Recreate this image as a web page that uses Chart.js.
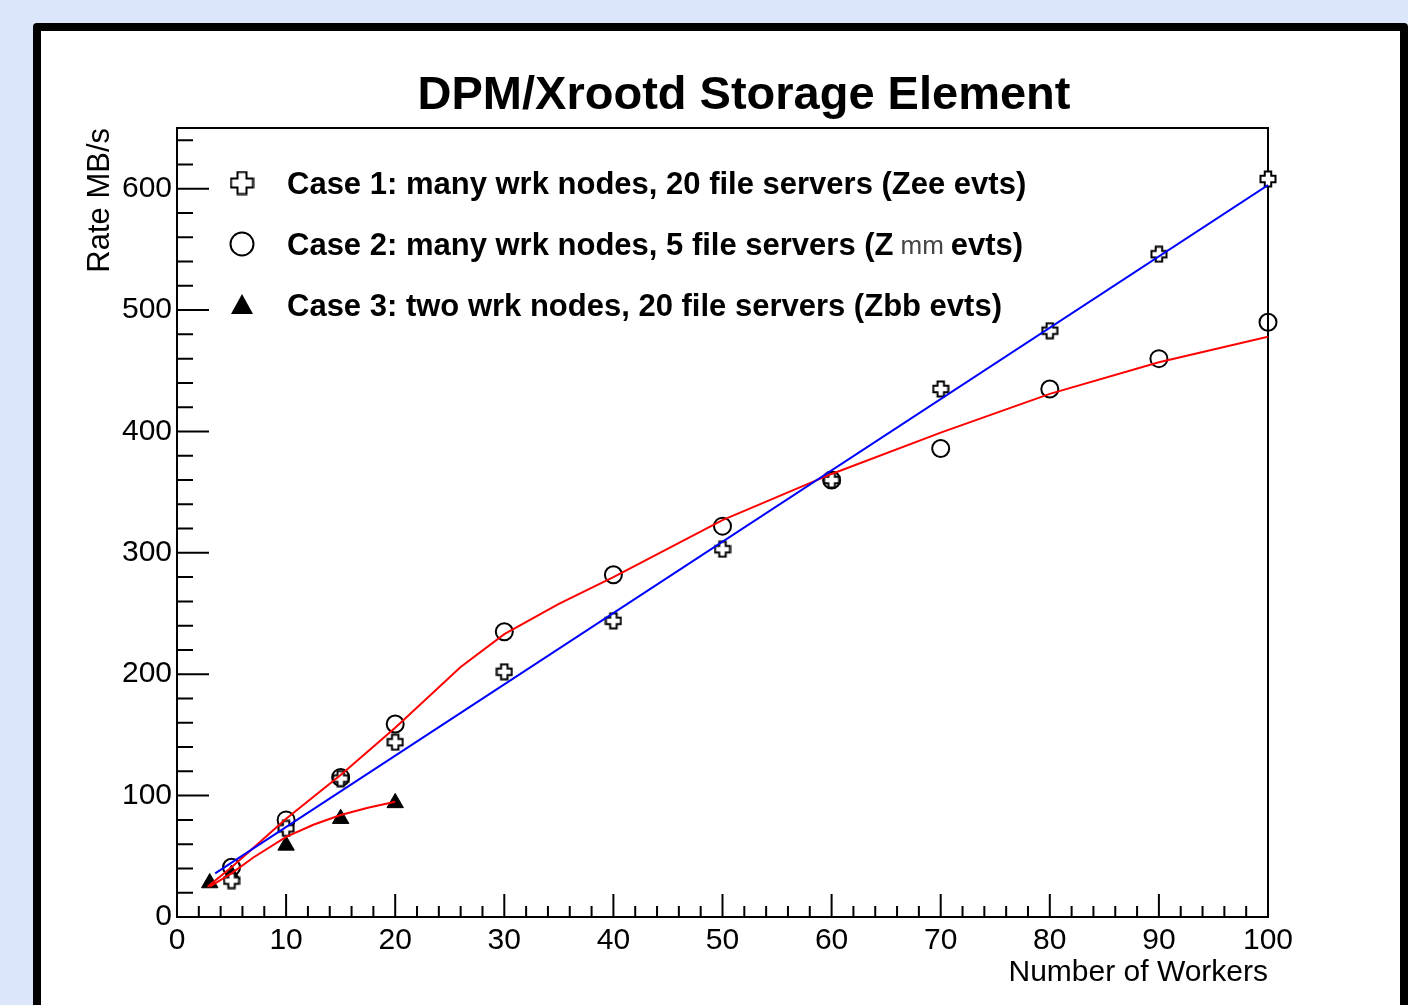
<!DOCTYPE html>
<html>
<head>
<meta charset="utf-8">
<script src="https://cdn.jsdelivr.net/npm/chart.js@4.4.1/dist/chart.umd.min.js"></script>
<style>
  html, body { margin: 0; padding: 0; background: #dce6fa; overflow: hidden; }
  #frame { position: absolute; left: 33px; top: 23px; width: 1359px; height: 1100px;
           border: 8px solid #000; border-radius: 4px; background: #fff; }
  #chartRate { position: absolute; left: 0; top: 0; }
</style>
</head>
<body>
<div id="frame"></div>
<canvas id="chartRate" width="1408" height="1005"></canvas>
<script>
// measured points (workers -> MB/s)
const workers = [5, 10, 15, 20, 30, 40, 50, 60, 70, 80, 90, 100];
const case1Rate = [30, 73, 114, 144, 202, 244, 303, 360, 435, 483, 546, 608];
const case2Rate = [41, 80, 115, 159, 235, 282, 322, 360, 386, 435, 460, 490];
const case3Workers = [3, 5, 10, 15, 20];
const case3Rate = [28, 35, 59, 81, 94];

// fitted curves
const fit1Workers = [3.5, 100];
const fit1Rate = [36, 603];
const fit2Workers = [2.8, 5, 10, 15, 20, 26, 30, 35, 40, 50, 60, 70, 80, 90, 100];
const fit2Rate = [25, 41, 81, 117, 156, 206, 233, 258, 280, 327, 365, 399, 431, 457, 478];
const fit3Workers = [3, 5, 7, 10, 12.5, 15, 17.5, 20];
const fit3Rate = [25, 36, 49, 66, 76, 84, 90, 95];

// axis ticks
const xTickValues = [0, 10, 20, 30, 40, 50, 60, 70, 80, 90, 100];
const yTickValues = [0, 100, 200, 300, 400, 500, 600];

const chartTitle = 'DPM/Xrootd Storage Element';
const caseLabels = [
  'Case 1: many wrk nodes, 20 file servers (Zee evts)',
  'Case 2: many wrk nodes, 5 file servers (Z mm evts)',
  'Case 3: two wrk nodes, 20 file servers (Zbb evts)'
];

const FONT = '"Liberation Sans", Arial, Helvetica, sans-serif';

function toPts(xs, ys) {
  return xs.map((x, i) => ({ x: x, y: ys[i] }));
}

// open cross marker (white inside, black outline)
function makeCross(size) {
  const c = document.createElement('canvas');
  c.width = size; c.height = size;
  const g = c.getContext('2d');
  const p = 1.5, w = size * 0.36, t = (size - w) / 2, e = size - p;
  g.beginPath();
  g.moveTo(t, p); g.lineTo(t + w, p); g.lineTo(t + w, t); g.lineTo(e, t);
  g.lineTo(e, t + w); g.lineTo(t + w, t + w); g.lineTo(t + w, e); g.lineTo(t, e);
  g.lineTo(t, t + w); g.lineTo(p, t + w); g.lineTo(p, t); g.lineTo(t, t);
  g.closePath();
  g.fillStyle = '#fff';
  g.fill();
  g.lineWidth = 2;
  g.strokeStyle = '#000';
  g.stroke();
  return c;
}
const crossSmall = makeCross(18);
const crossBig = makeCross(25);

// ROOT style frame with ticks pointing inside
const rootAxes = {
  id: 'rootAxes',
  beforeDatasetsDraw(chart) {
    const { ctx, chartArea: a, scales: { x, y } } = chart;
    ctx.save();
    ctx.strokeStyle = '#000';
    ctx.lineWidth = 2;
    ctx.strokeRect(a.left, a.top, a.right - a.left, a.bottom - a.top);
    ctx.beginPath();
    for (let v = 0; v <= 100; v += 2) {
      const px = x.getPixelForValue(v);
      const len = v % 10 === 0 ? 23 : 11;
      ctx.moveTo(px, a.bottom);
      ctx.lineTo(px, a.bottom - len);
    }
    for (let v = 0; v <= 640; v += 20) {
      const py = y.getPixelForValue(v);
      const len = v % 100 === 0 ? 32 : 16;
      ctx.moveTo(a.left, py);
      ctx.lineTo(a.left + len, py);
    }
    ctx.stroke();
    ctx.restore();
  }
};

// title + legend box
const rootLegend = {
  id: 'rootLegend',
  afterDraw(chart) {
    const ctx = chart.ctx;
    ctx.save();
    ctx.fillStyle = '#000';
    ctx.textBaseline = 'middle';
    ctx.textAlign = 'center';
    ctx.font = 'bold 47px ' + FONT;
    ctx.fillText(chartTitle, 744, 96);

    const mx = 242, tx = 287, rows = [183, 244, 305];
    ctx.drawImage(crossBig, mx - 12.5, rows[0] - 12.5);
    ctx.beginPath();
    ctx.arc(mx, rows[1], 11.5, 0, Math.PI * 2);
    ctx.lineWidth = 2;
    ctx.strokeStyle = '#000';
    ctx.stroke();
    ctx.beginPath();
    ctx.moveTo(mx, rows[2] - 11);
    ctx.lineTo(mx + 11, rows[2] + 9);
    ctx.lineTo(mx - 11, rows[2] + 9);
    ctx.closePath();
    ctx.fill();

    ctx.textAlign = 'left';
    ctx.font = 'bold 31px ' + FONT;
    ctx.fillText(caseLabels[0], tx, rows[0] + 2);
    ctx.fillText(caseLabels[2], tx, rows[2] + 2);
    // second label: the mu symbols fall back to a thin font
    const parts = caseLabels[1].split(' mm ');
    let cx = tx;
    ctx.fillText(parts[0], cx, rows[1] + 2);
    cx += ctx.measureText(parts[0]).width + 7;
    ctx.font = '26px ' + FONT;
    ctx.fillStyle = '#444';
    ctx.fillText('mm', cx, rows[1] + 3);
    cx += ctx.measureText('mm').width + 7;
    ctx.font = 'bold 31px ' + FONT;
    ctx.fillStyle = '#000';
    ctx.fillText(parts[1], cx, rows[1] + 2);
    ctx.restore();
  }
};

const ctx1 = document.getElementById('chartRate');

const data = {
  datasets: [
    { data: toPts(fit1Workers, fit1Rate), showLine: true, borderColor: '#0000ff', borderWidth: 2, pointRadius: 0 },
    { data: toPts(fit2Workers, fit2Rate), showLine: true, borderColor: '#ff0000', borderWidth: 2, pointRadius: 0 },
    { data: toPts(fit3Workers, fit3Rate), showLine: true, borderColor: '#ff0000', borderWidth: 2, pointRadius: 0 },
    { label: caseLabels[0], data: toPts(workers, case1Rate), pointStyle: crossSmall, clip: false },
    { label: caseLabels[1], data: toPts(workers, case2Rate), pointStyle: 'circle', pointRadius: 8.5,
      borderColor: '#000', borderWidth: 2, backgroundColor: 'rgba(0,0,0,0)', clip: false },
    { label: caseLabels[2], data: toPts(case3Workers, case3Rate), pointStyle: 'triangle', pointRadius: 9.5,
      borderColor: '#000', borderWidth: 1, backgroundColor: '#000', clip: false }
  ]
};

const config1 = {
  type: 'scatter',
  data: data,
  options: {
    responsive: false,
    animation: false,
    devicePixelRatio: 1,
    layout: { padding: { left: 60, right: 140, top: 128, bottom: 0 } },
    plugins: { legend: { display: false }, tooltip: { enabled: false } },
    scales: {
      x: {
        type: 'linear', min: 0, max: 100,
        afterBuildTicks: (s) => { s.ticks = xTickValues.map(v => ({ value: v })); },
        afterFit: (s) => { s.height = 88; },
        grid: { display: false, drawTicks: false },
        border: { display: false },
        ticks: { color: '#000', padding: 6, maxRotation: 0, font: { family: FONT, size: 30 } },
        title: { display: true, text: 'Number of Workers', align: 'end', color: '#000',
                 padding: { top: 0, bottom: 14 }, font: { family: FONT, size: 30 } }
      },
      y: {
        type: 'linear', min: 0, max: 650,
        afterBuildTicks: (s) => { s.ticks = yTickValues.map(v => ({ value: v })); },
        afterFit: (s) => { s.width = 117; },
        grid: { display: false, drawTicks: false },
        border: { display: false },
        ticks: { color: '#000', padding: 5, font: { family: FONT, size: 30 } },
        title: { display: true, text: 'Rate MB/s', align: 'end', color: '#000',
                 padding: { top: 22, bottom: 0 }, font: { family: FONT, size: 31 } }
      }
    }
  },
  plugins: [rootAxes, rootLegend]
};

new Chart(ctx1, config1);
</script>
</body>
</html>
